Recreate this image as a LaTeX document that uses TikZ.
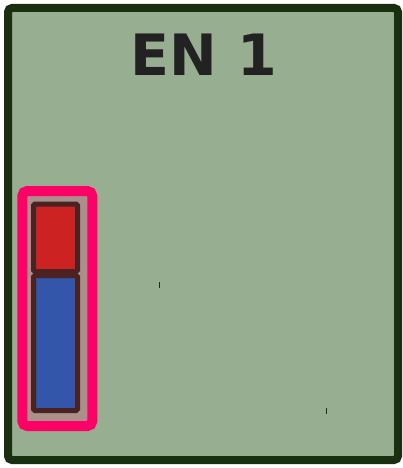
\documentclass[tikz,border=0pt]{standalone}
\usepackage{fontspec}
\setsansfont{DejaVu Sans}
\definecolor{enFrame}{HTML}{1A2E10}
\definecolor{enField}{HTML}{97AE91}
\definecolor{enPink}{HTML}{FF0066}
\definecolor{enPale}{HTML}{AA908A}
\definecolor{enBrown}{HTML}{4A2222}
\definecolor{enRed}{HTML}{CC2222}
\definecolor{enBlue}{HTML}{3355AA}
\definecolor{enInk}{HTML}{222222}
\tikzset{
  en frame/.style={draw=enFrame, fill=enField, line width=8pt, rounded corners=4pt},
  en holder/.style={draw=enPink, fill=enPale, line width=10pt, rounded corners=5pt},
  en cell/.style={draw=enBrown, line width=5pt, rounded corners=1.5pt},
  en tick/.style={draw=enFrame, line width=1pt},
  en title/.style={font=\sffamily\bfseries\fontsize{57}{57}\selectfont, text=enInk, inner sep=0pt},
}

\begin{document}
\begin{tikzpicture}[x=1pt,y=-1pt]
  \useasboundingbox (0,0) rectangle (402,468);
  \draw[en frame] (8,8) rectangle (398,460);
  \node[en title] (title) at (204,55) {EN 1};

  \draw[en holder] (22.3,191) rectangle (92.3,426);
  \draw[en cell, fill=enRed] (33.5,204) rectangle (77.5,271.5);
  \draw[en cell, fill=enBlue] (33.5,275.5) rectangle (77.5,410.5);

  \foreach \x/\y in {159/282,326/408} {
    \draw[en tick] (\x,\y) -- +(0,6);
  }
\end{tikzpicture}
\end{document}
